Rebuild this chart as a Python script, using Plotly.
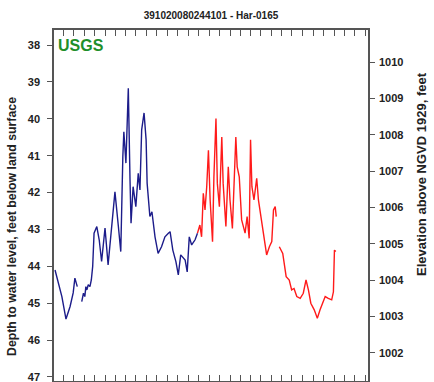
import plotly.graph_objects as go

# ---------------- data ----------------
title_text = "391020080244101 - Har-0165"
land_surface = 1048.41  # elevation of land surface, feet

approved_dates = [
    "2008-08-08", "2008-08-28", "2008-09-09", "2008-09-21", "2008-09-30", "2008-10-05", "2008-10-12",
    None,
    "2008-10-25", "2008-10-30", "2008-11-03", "2008-11-06", "2008-11-09", "2008-11-13", "2008-11-18",
    "2008-11-22", "2008-11-26", "2008-11-30", "2008-12-08",
    "2008-12-15", "2008-12-22", "2009-01-01", "2009-01-10", "2009-01-20", "2009-01-30", "2009-02-09",
    "2009-02-16", "2009-02-22", "2009-02-25", "2009-03-03", "2009-03-10", "2009-03-15", "2009-03-18",
    "2009-03-24", "2009-04-01", "2009-04-08", "2009-04-13", "2009-04-18", "2009-04-25", "2009-05-01",
    "2009-05-04", "2009-05-12", "2009-05-18", "2009-05-27", "2009-06-05", "2009-06-15", "2009-06-25",
    "2009-07-05", "2009-07-10", "2009-07-18", "2009-07-27", "2009-08-03", "2009-08-10", "2009-08-23",
    "2009-08-29", "2009-09-04", "2009-09-11", "2009-09-21", "2009-09-28",
]
approved_depth = [
    44.10, 44.82, 45.43, 45.09, 44.72, 44.32, 44.55,
    None,
    44.96, 44.73, 44.82, 44.55, 44.64, 44.50, 44.55,
    44.37, 44.00, 43.10, 42.92,
    43.28, 43.87, 42.96, 43.96, 43.00, 41.98, 42.92,
    43.60, 41.03, 40.35, 41.20, 39.17, 41.66, 42.83,
    41.84, 42.38, 41.48, 41.93, 40.30, 39.84, 40.57,
    41.75, 42.65, 42.52, 43.20, 43.65, 43.47, 43.20,
    43.10, 43.06, 43.56, 43.87, 44.23, 43.69, 43.83,
    44.15, 43.20, 43.42, 43.28, 43.10,
]

provisional_dates = [
    "2009-09-28", "2009-10-05", "2009-10-10", "2009-10-15", "2009-10-20", "2009-10-25", "2009-10-30",
    "2009-11-04", "2009-11-11", "2009-11-15", "2009-11-21", "2009-11-25", "2009-12-01", "2009-12-08",
    "2009-12-12", "2009-12-20", "2009-12-27", "2010-01-01", "2010-01-08", "2010-01-14", "2010-01-18",
    "2010-01-22", "2010-01-28", "2010-02-04", "2010-02-14", "2010-02-20", "2010-02-26", "2010-03-02",
    "2010-03-06", "2010-03-12", "2010-03-20", "2010-03-25", "2010-04-01", "2010-04-07", "2010-04-13",
    "2010-04-18", "2010-04-26", "2010-05-03", "2010-05-08", "2010-05-13", "2010-05-16",
    None,
    "2010-05-25", "2010-06-04", "2010-06-14", "2010-06-23", "2010-06-30", "2010-07-07", "2010-07-15",
    "2010-07-25", "2010-08-03", "2010-08-11", "2010-08-18", "2010-08-25", "2010-09-04", "2010-09-13",
    "2010-09-21", "2010-09-29", "2010-10-06", "2010-10-15", "2010-10-25", "2010-10-30", "2010-11-02",
    "2010-11-06",
]
provisional_depth = [
    43.10, 42.88, 43.20, 42.02, 42.47, 41.84, 40.85,
    42.20, 43.33, 41.57, 39.99, 41.75, 42.38, 40.49,
    41.75, 42.92, 41.30, 42.20, 42.97, 41.66, 40.49,
    41.30, 41.57, 42.74, 43.10, 42.65, 43.24, 40.57,
    41.84, 42.20, 41.61, 42.20, 42.61, 42.92, 43.28,
    43.69, 43.47, 43.33, 42.47, 42.38, 42.65,
    None,
    43.47, 43.65, 44.28, 44.37, 44.64, 44.60, 44.82,
    44.87, 44.73, 44.37, 44.64, 45.00, 45.18, 45.41,
    45.18, 45.00, 44.82, 44.87, 44.91, 44.69, 43.56,
    43.60,
]

depth_ticks = [38, 39, 40, 41, 42, 43, 44, 45, 46, 47]
elev_ticks = [1002, 1003, 1004, 1005, 1006, 1007, 1008, 1009, 1010]

x_range = ["2008-08-05", "2011-02-08"]
depth_range = [47.11, 37.59]
elev_range = [1001.22, 1010.89]

# ---------------- figure ----------------
W, H = 434, 382
ml, mr, mt, mb = 54, 66, 30, 1
pw, ph = W - ml - mr, H - mt - mb

axis_col = "#555555"
text_col = "#222222"
fam = "Liberation Sans, Arial, sans-serif"
tfont = dict(family=fam, size=11, color=text_col, weight="bold")

fig = go.Figure()
fig.add_trace(go.Scatter(x=approved_dates, y=approved_depth, mode="lines",
                         line=dict(color="#1c1c8a", width=1.4), connectgaps=False,
                         showlegend=False, hoverinfo="skip"))
fig.add_trace(go.Scatter(x=provisional_dates, y=provisional_depth, mode="lines",
                         line=dict(color="#ff1a1a", width=1.4), connectgaps=False,
                         showlegend=False, hoverinfo="skip"))
# invisible trace on the elevation axis so it is drawn
fig.add_trace(go.Scatter(x=approved_dates,
                         y=[None if d is None else land_surface - d for d in approved_depth],
                         yaxis="y2", mode="lines", line=dict(width=0), opacity=0,
                         showlegend=False, hoverinfo="skip"))

fig.update_layout(
    width=W, height=H,
    margin=dict(l=ml, r=mr, t=mt, b=mb, autoexpand=False),
    paper_bgcolor="white", plot_bgcolor="white",
    showlegend=False,
    title=dict(text=title_text, x=(ml + pw / 2) / W, xanchor="center",
               y=1 - 15 / H, yanchor="middle",
               font=dict(family=fam, size=10, color=text_col, weight="bold")),
    xaxis=dict(type="date", range=x_range, showgrid=False, zeroline=False,
               showline=True, linecolor=axis_col, linewidth=1.5, mirror="allticks",
               ticks="inside", ticklen=6, tickwidth=1, tickcolor=axis_col,
               dtick="M12", tick0="2009-01-01", showticklabels=False,
               minor=dict(dtick="M1", tick0="2009-01-01", ticks="inside", ticklen=3,
                          tickcolor=axis_col, tickwidth=1, showgrid=False)),
    yaxis=dict(range=depth_range, tickvals=depth_ticks, showgrid=False, zeroline=False,
               showline=True, linecolor=axis_col, linewidth=1.5,
               ticks="outside", ticklen=5, tickwidth=1, tickcolor=axis_col,
               tickfont=tfont, ticklabelstandoff=5, ticklabeloverflow="allow"),
    yaxis2=dict(range=elev_range, tickvals=elev_ticks, overlaying="y", side="right",
                showgrid=False, zeroline=False,
                showline=True, linecolor=axis_col, linewidth=1.5,
                ticks="outside", ticklen=5, tickwidth=1, tickcolor=axis_col,
                tickfont=tfont, ticklabelstandoff=2),
)

fig.add_annotation(text="USGS", xref="paper", yref="y", x=2 / pw, y=38, xanchor="left",
                   yanchor="middle", showarrow=False,
                   font=dict(family=fam, size=16, color="#1e8f2a", weight="bold"))
fig.add_annotation(text="Depth to water level, feet below land surface", textangle=-90,
                   xref="paper", yref="paper", x=(12 - ml) / pw, y=(H - mb - 227) / ph,
                   xanchor="center", yanchor="middle", showarrow=False,
                   font=dict(family=fam, size=12.3, color=text_col, weight="bold"))
fig.add_annotation(text="Elevation above NGVD 1929, feet", textangle=-90,
                   xref="paper", yref="paper", x=(421 - ml) / pw, y=(H - mb - 174) / ph,
                   xanchor="center", yanchor="middle", showarrow=False,
                   font=dict(family=fam, size=13, color=text_col, weight="bold"))

fig.write_html("out.html")
